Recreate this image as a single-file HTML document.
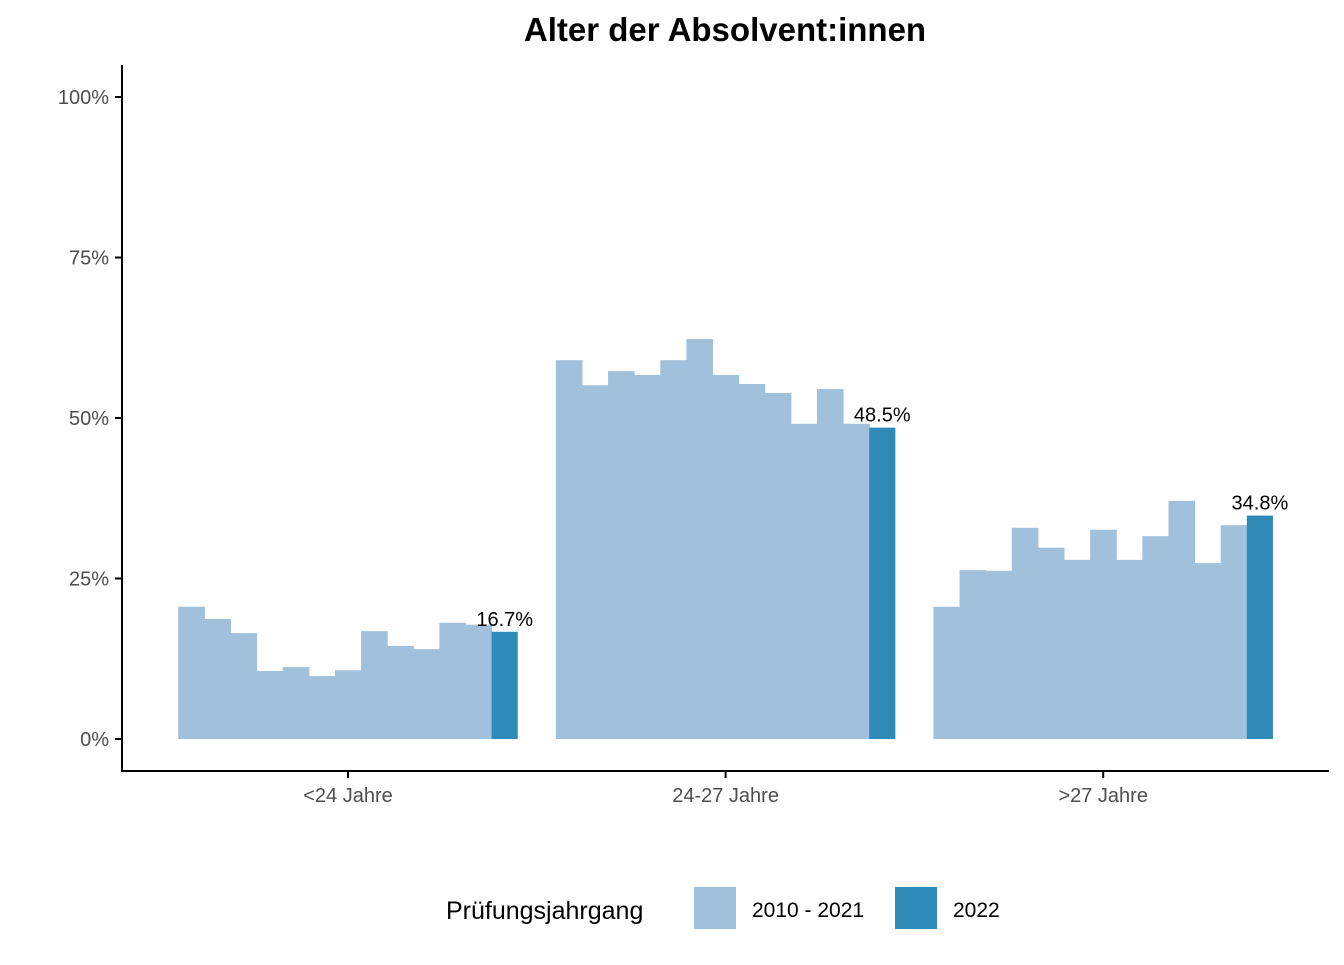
<!DOCTYPE html>
<html><head><meta charset="utf-8"><style>
body{margin:0;background:#fff;font-family:"Liberation Sans",Arial,sans-serif}
svg text{font-family:"Liberation Sans",Arial,sans-serif}
</style></head><body>
<svg id="chart" width="1344" height="960" xmlns="http://www.w3.org/2000/svg">
<text x="725" y="41" text-anchor="middle" font-size="33" font-weight="bold">Alter der Absolvent:innen</text>
<g id="plot"></g>
<line x1="122" y1="65" x2="122" y2="771" stroke="#000" stroke-width="2"/>
<line x1="121" y1="771" x2="1329" y2="771" stroke="#000" stroke-width="2"/>
<g>
<text x="446" y="919" font-size="25">Prüfungsjahrgang</text>
<rect x="694" y="887" width="42" height="42" fill="#a0c0dc"/>
<text x="752" y="917" font-size="21">2010 - 2021</text>
<rect x="895" y="887" width="42" height="42" fill="#2f8ab8"/>
<text x="953" y="917" font-size="21">2022</text>
</g>
</svg>
<script>
const categories = ["<24 Jahre","24-27 Jahre",">27 Jahre"];
const pastValues = [
 [20.6,18.7,16.5,10.6,11.2,9.8,10.7,16.8,14.5,14.0,18.1,17.8],
 [59.0,55.1,57.3,56.7,59.0,62.3,56.7,55.3,53.9,49.1,54.5,49.1],
 [20.6,26.3,26.2,32.9,29.8,27.9,32.6,27.9,31.6,37.1,27.4,33.3]
];
const currentValues = [16.7,48.5,34.8];
const yTicks = [0,25,50,75,100];
const yTickLabels = ["0%","25%","50%","75%","100%"];

const NS="http://www.w3.org/2000/svg";
const g=document.getElementById("plot");
const y=v=>739-v*6.42;
const xc=i=>348+i*377.6;
const groupW=339.5;
function mk(tag,attrs){const e=document.createElementNS(NS,tag);for(const k in attrs)e.setAttribute(k,attrs[k]);g.appendChild(e);return e;}
yTicks.forEach((t,i)=>{
 const l=mk("line",{x1:115,x2:122,y1:y(t),y2:y(t),stroke:"#000","stroke-width":2});
 
 
 const tx=mk("text",{x:109,y:y(t)+7,"text-anchor":"end","font-size":20,fill:"#4d4d4d"});
 tx.textContent=yTickLabels[i];
 
 
});
categories.forEach((c,i)=>{
 const n=pastValues[i].length+1;
 const bw=groupW/n;
 const x0=xc(i)-groupW/2;
 pastValues[i].forEach((v,j)=>{
  const r=mk("rect",{x:x0+j*bw,y:y(v),width:bw+0.5,height:y(0)-y(v),fill:"#a0c0dc"});
  
  
 });
 const v=currentValues[i];
 const r=mk("rect",{x:x0+(n-1)*bw,y:y(v),width:bw,height:y(0)-y(v),fill:"#2f8ab8"});
 
 
 const lb=mk("text",{x:x0+(n-0.5)*bw,y:y(v)-6,"text-anchor":"middle","font-size":20});
 lb.textContent=v.toFixed(1)+"%";
 
 
 const tk=mk("line",{x1:xc(i),x2:xc(i),y1:771,y2:778,stroke:"#000","stroke-width":2});
 
 
 const tl=mk("text",{x:xc(i),y:802,"text-anchor":"middle","font-size":20,fill:"#4d4d4d"});
 tl.textContent=c;
 
 
});
</script>
</body></html>
